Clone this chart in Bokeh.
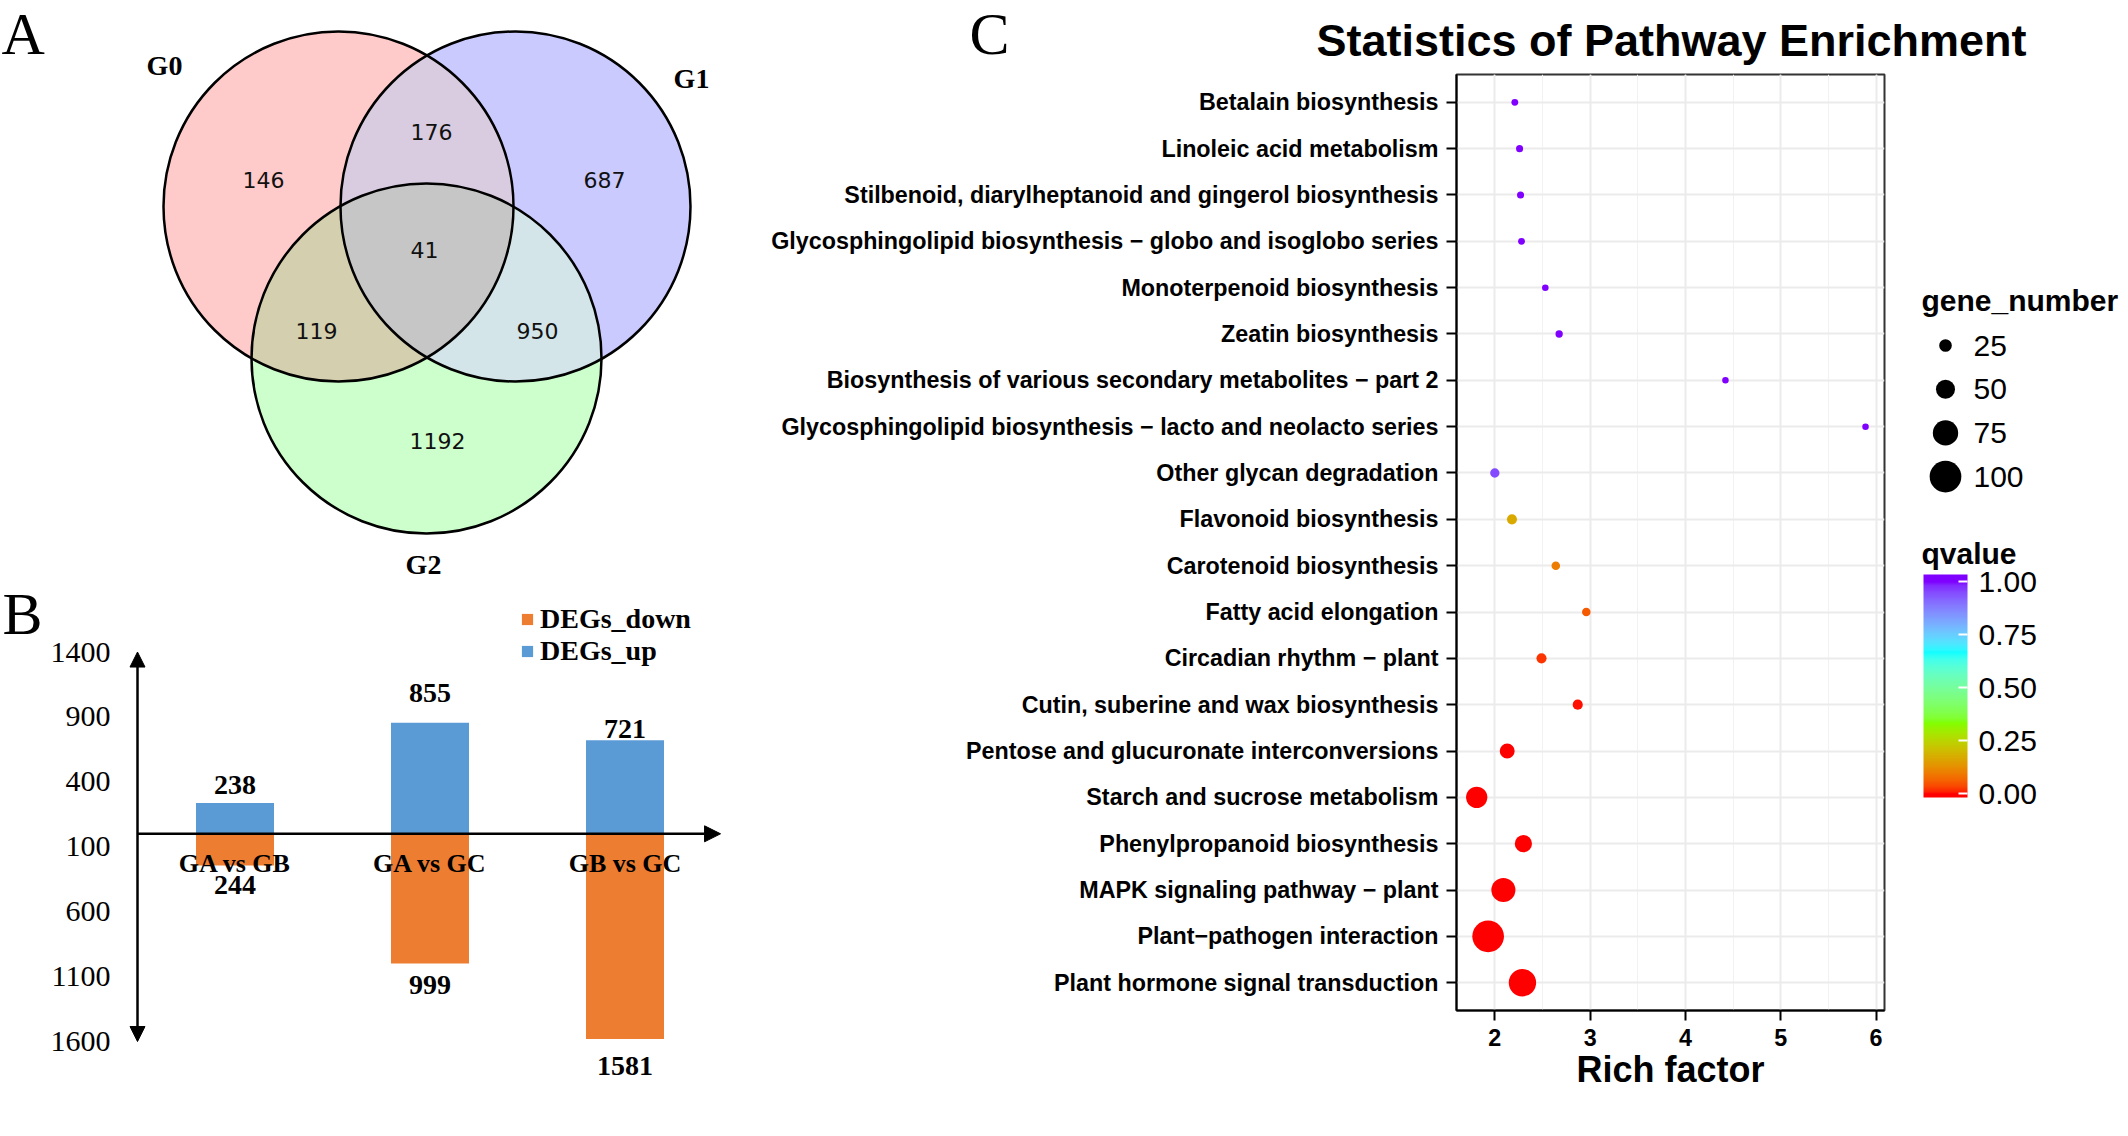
import numpy as np
from bokeh.plotting import figure
from bokeh.models import (Range1d, FactorRange, LinearColorMapper, ColorBar, FixedTicker,
                          PrintfTickFormatter, SingleIntervalTicker, LinearInterpolator,
                          Arrow, NormalHead, Legend, LegendItem, ColumnDataSource)
from bokeh.layouts import row, column
from bokeh.embed import file_html
from bokeh.resources import INLINE
from bokeh.core.properties import value

# ---------------- data ----------------
venn_sets = ["G0", "G1", "G2"]
venn_regions = ["G0", "G0&G1", "G1", "G0&G1&G2", "G0&G2", "G1&G2", "G2"]
venn_counts = [146, 176, 687, 41, 119, 950, 1192]

deg_groups = ["GA vs GB", "GA vs GC", "GB vs GC"]
degs_up = [238, 855, 721]
degs_down = [244, 999, 1581]
deg_ticks = [1400, 900, 400, -100, -600, -1100, -1600]

pathways = [
    "Betalain biosynthesis",
    "Linoleic acid metabolism",
    "Stilbenoid, diarylheptanoid and gingerol biosynthesis",
    "Glycosphingolipid biosynthesis \u2212 globo and isoglobo series",
    "Monoterpenoid biosynthesis",
    "Zeatin biosynthesis",
    "Biosynthesis of various secondary metabolites \u2212 part 2",
    "Glycosphingolipid biosynthesis \u2212 lacto and neolacto series",
    "Other glycan degradation",
    "Flavonoid biosynthesis",
    "Carotenoid biosynthesis",
    "Fatty acid elongation",
    "Circadian rhythm \u2212 plant",
    "Cutin, suberine and wax biosynthesis",
    "Pentose and glucuronate interconversions",
    "Starch and sucrose metabolism",
    "Phenylpropanoid biosynthesis",
    "MAPK signaling pathway \u2212 plant",
    "Plant\u2212pathogen interaction",
    "Plant hormone signal transduction",
]
rich_factor = [2.21, 2.26, 2.27, 2.28, 2.53, 2.675, 4.42, 5.89, 2.00, 2.18,
               2.64, 2.96, 2.49, 2.87, 2.13, 1.81, 2.30, 2.09, 1.93, 2.29]
gene_number = [2, 3, 3, 2, 1, 4, 1, 1, 12, 15, 9, 9, 15, 15, 34, 59, 43, 70, 104, 83]
qvalue = [1.0, 1.0, 1.0, 1.0, 1.0, 1.0, 1.0, 1.0, 0.95, 0.17,
          0.10, 0.055, 0.02, 0.006, 0.002, 0.0, 0.0, 0.0, 0.0, 0.0]
size_breaks = [25, 50, 75, 100]
q_breaks = [0.0, 0.25, 0.5, 0.75, 1.0]

SERIF = "Liberation Serif"
SANS = "Liberation Sans"

# ---------------- colour palette (Lab interpolation of rainbow(4)) ----------------
def _hex2rgb(h):
    h = h.lstrip("#")
    return np.array([int(h[i:i + 2], 16) for i in (0, 2, 4)], dtype=float) / 255.0

_M = np.array([[0.4124564, 0.3575761, 0.1804375],
               [0.2126729, 0.7151522, 0.0721750],
               [0.0193339, 0.1191920, 0.9503041]])
_WHITE = np.array([0.95047, 1.0, 1.08883])
_D = 6.0 / 29.0

def rgb2lab(c):
    lin = np.where(c <= 0.04045, c / 12.92, ((c + 0.055) / 1.055) ** 2.4)
    t = (_M @ lin) / _WHITE
    f = np.where(t > _D ** 3, np.cbrt(t), t / (3 * _D ** 2) + 4 / 29)
    return np.array([116 * f[1] - 16, 500 * (f[0] - f[1]), 200 * (f[1] - f[2])])

def lab2rgb(lab):
    L, a, b = lab
    fy = (L + 16) / 116
    f = np.array([fy + a / 500, fy, fy - b / 200])
    t = np.where(f > _D, f ** 3, 3 * _D ** 2 * (f - 4 / 29)) * _WHITE
    lin = np.clip(np.linalg.solve(_M, t), 0, 1)
    c = np.where(lin <= 0.0031308, 12.92 * lin, 1.055 * lin ** (1 / 2.4) - 0.055)
    return np.clip(c, 0, 1)

stops_hex = ["#FF0000", "#80FF00", "#00FFFF", "#8000FF"]
stops_lab = [rgb2lab(_hex2rgb(h)) for h in stops_hex]
q_low, q_high = -0.018, 1.033

def qcolor(q):
    q = min(max(q, 0.0), 1.0)
    pos = q * (len(stops_lab) - 1)
    i = min(int(pos), len(stops_lab) - 2)
    t = pos - i
    lab = stops_lab[i] * (1 - t) + stops_lab[i + 1] * t
    r, g, b = (lab2rgb(lab) * 255 + 0.5).astype(int)
    return "#%02x%02x%02x" % (r, g, b)

palette = [qcolor(v) for v in np.linspace(q_low, q_high, 256)]
cmapper = LinearColorMapper(palette=palette, low=q_low, high=q_high)
size_interp = LinearInterpolator(x=[0, 100], y=[6.3, 31.7], clip=False)

def bare(p):
    p.grid.visible = False
    p.outline_line_color = None
    p.background_fill_color = None
    return p

# ---------------- Panel A : Venn ----------------
WA, HA = 740, 580
pA = bare(figure(width=WA, height=HA, x_range=Range1d(0, WA), y_range=Range1d(0, HA),
                 output_backend="svg", toolbar_location=None, min_border=0,
                 x_axis_location=None, y_axis_location=None))
circ_x = [338, 515, 426]
circ_y = [374, 374, 222]
circ_r = 175
yy, xx = np.mgrid[0:HA, 0:WA].astype(float) + 0.5
code = np.zeros((HA, WA), dtype=int)
for k, (cx, cy) in enumerate(zip(circ_x, circ_y)):
    code += ((xx - cx) ** 2 + (yy - cy) ** 2 <= circ_r ** 2).astype(int) << k
region_rgb = {1: (255, 202, 202), 2: (202, 202, 255), 4: (204, 255, 204),
              3: (217, 204, 224), 5: (212, 207, 175), 6: (211, 229, 232),
              7: (198, 198, 198)}
img = np.zeros((HA, WA, 4), dtype=np.uint8)
for k, c in region_rgb.items():
    m = code == k
    img[m, 0], img[m, 1], img[m, 2], img[m, 3] = c[0], c[1], c[2], 255
img32 = np.ascontiguousarray(img).view(np.uint32).reshape(HA, WA)
pA.image_rgba(image=[img32], x=0, y=0, dw=WA, dh=HA)
pA.circle(x=circ_x, y=circ_y, radius=circ_r, fill_color=None,
          line_color="black", line_width=2.5)
region_pos = {"G0": (263, 401), "G0&G1": (431, 449), "G1": (604, 401),
              "G0&G1&G2": (424, 331), "G0&G2": (316, 250), "G1&G2": (537, 250),
              "G2": (437, 140)}
pA.text(x=[region_pos[r][0] for r in venn_regions],
        y=[region_pos[r][1] for r in venn_regions],
        text=[str(c) for c in venn_counts],
        text_font=value("DejaVu Sans"), text_font_size="22px",
        text_align="center", text_baseline="middle", text_color="#111111")
set_pos = [(164, 515, "middle"), (691, 502, "middle"), (423, 1, "bottom")]
for (sx, sy, bl), name in zip(set_pos, venn_sets):
    pA.text(x=[sx], y=[sy], text=[name], text_font=value(SERIF), text_font_style="bold",
            text_font_size="28px", text_align="center", text_baseline=bl, text_color="black")
pA.text(x=[1], y=[HA], text=["A"], text_font=value(SERIF), text_font_size="60px",
        text_align="left", text_baseline="top", text_color="black")

# ---------------- Panel B : DEG bars ----------------
WB, HB = 740, 552
px_per_cat = 195.0          # pixels per category
px_per_unit = 0.12983       # pixels per gene
axis_px = 137               # x pixel of the vertical axis
zero_px = 253.3             # y pixel (from top) of the zero line
pB = bare(figure(width=WB, height=HB,
                 x_range=Range1d(-axis_px / px_per_cat, (WB - axis_px) / px_per_cat),
                 y_range=Range1d(-(HB - zero_px) / px_per_unit, zero_px / px_per_unit),
                 output_backend="svg", toolbar_location=None, min_border=0,
                 x_axis_location=None, y_axis_location=None))
xs = np.arange(len(deg_groups)) + 0.5
r_up = pB.vbar(x=xs, top=degs_up, bottom=0, width=0.4, fill_color="#5B9BD5", line_color=None)
r_down = pB.vbar(x=xs, top=0, bottom=[-d for d in degs_down], width=0.4,
                 fill_color="#ED7D31", line_color=None)
pB.text(x=[0] * len(deg_ticks), y=deg_ticks, text=[str(abs(t)) for t in deg_ticks],
        x_offset=-27, text_font=value(SERIF), text_font_size="30px",
        text_align="right", text_baseline="middle", text_color="black")
pB.add_layout(Arrow(x_start=0, y_start=deg_ticks[-1], x_end=0, y_end=deg_ticks[0],
                    line_color="black", line_width=2.5,
                    start=NormalHead(size=15, fill_color="black", line_color="black"),
                    end=NormalHead(size=15, fill_color="black", line_color="black")))
pB.add_layout(Arrow(x_start=0, y_start=0, x_end=len(deg_groups) - 0.01, y_end=0,
                    line_color="black", line_width=2.5,
                    end=NormalHead(size=16, fill_color="black", line_color="black")))
up_dy = [-18, -30, -11]
down_dy = [20, 21, 27]
lab_font = dict(text_font=value(SERIF), text_font_style="bold", text_align="center",
                text_baseline="middle", text_color="black")
pB.text(x=xs, y=degs_up, text=[str(v) for v in degs_up], y_offset=up_dy,
        text_font_size="28px", **lab_font)
pB.text(x=xs, y=[-v for v in degs_down], text=[str(v) for v in degs_down], y_offset=down_dy,
        text_font_size="28px", **lab_font)
pB.text(x=xs, y=[0] * len(xs), text=deg_groups, y_offset=30, text_font_size="26px", **lab_font)
pB.text(x=[0], y=[zero_px / px_per_unit], text=["B"], x_offset=-135,
        text_font=value(SERIF), text_font_size="60px", text_align="left",
        text_baseline="top", text_color="black")
legB = Legend(items=[LegendItem(label="DEGs_down", renderers=[r_down]),
                     LegendItem(label="DEGs_up", renderers=[r_up])],
              location=(520, 465), glyph_width=14, glyph_height=14, label_standoff=6,
              spacing=0, padding=0, margin=0, border_line_color=None,
              background_fill_alpha=0, label_text_font=SERIF, label_text_font_style="bold",
              label_text_font_size="28px", label_text_color="black")
pB.add_layout(legB)

# ---------------- Panel C : header (letter + title) ----------------
WT, HT = 1384, 70
pT = bare(figure(width=WT, height=HT, x_range=Range1d(0, WT), y_range=Range1d(0, HT),
                 output_backend="svg", toolbar_location=None, min_border=0,
                 x_axis_location=None, y_axis_location=None))
pT.text(x=[249], y=[HT], text=["C"], text_font=value(SERIF), text_font_size="60px",
        text_align="center", text_baseline="top", text_color="black")
pT.text(x=[931], y=[HT - 40], text=["Statistics of Pathway Enrichment"],
        text_font=value(SANS), text_font_style="bold", text_font_size="45px",
        text_align="center", text_baseline="middle", text_color="black")

# ---------------- Panel C : enrichment dot plot ----------------
WC, HC = 1150, 1062
bt, bb = 4, 122
src = ColumnDataSource(dict(path=pathways, rf=rich_factor, gene=gene_number, q=qvalue))
pC = figure(width=WC, height=HC,
            y_range=FactorRange(factors=pathways[::-1], range_padding=0.1,
                                range_padding_units="absolute"),
            x_range=Range1d(1.598, 6.089), output_backend="svg", toolbar_location=None,
            min_border_left=716, min_border_right=6, min_border_top=bt,
            min_border_bottom=bb)
pC.outline_line_color = "#333333"
pC.outline_line_width = 2
pC.xaxis.ticker = SingleIntervalTicker(interval=1, num_minor_ticks=2)
pC.xgrid.grid_line_color = "#EBEBEB"
pC.xgrid.grid_line_width = 2
pC.xgrid.minor_grid_line_color = "#F2F2F2"
pC.xgrid.minor_grid_line_width = 1
pC.ygrid.grid_line_color = "#EBEBEB"
pC.ygrid.grid_line_width = 2
for ax in (pC.xaxis[0], pC.yaxis[0]):
    ax.axis_line_color = "black"
    ax.axis_line_width = 2
    ax.major_tick_line_color = "black"
    ax.major_tick_line_width = 2
    ax.major_tick_out = 10
    ax.major_tick_in = 0
    ax.minor_tick_line_color = None
    ax.major_label_standoff = 8
    ax.major_label_text_font = SANS
    ax.major_label_text_font_style = "bold"
    ax.major_label_text_font_size = "23.3px"
    ax.major_label_text_color = "black"
pC.xaxis.axis_label = "Rich factor"
pC.xaxis.axis_label_text_font = SANS
pC.xaxis.axis_label_text_font_size = "36px"
pC.xaxis.axis_label_text_font_style = "bold"
pC.xaxis.axis_label_text_color = "black"
pC.xaxis.axis_label_standoff = 0
pC.scatter(x="rf", y="path", source=src,
           size={"field": "gene", "transform": size_interp},
           fill_color={"field": "q", "transform": cmapper}, line_color=None)

# ---------------- Panel C legends ----------------
WL = 234
top_ref = HT + bt                    # page y of frame top
bot_ref = HT + HC - bb               # page y of frame bottom
pL = bare(figure(width=WL, height=HC, x_range=Range1d(0, WL),
                 y_range=Range1d(-bot_ref, -top_ref),
                 output_backend="svg", toolbar_location=None, min_border_left=0,
                 min_border_right=0, min_border_top=bt, min_border_bottom=bb,
                 x_axis_location=None, y_axis_location=None))
# y in this panel = minus page pixel row
title_font = dict(text_font=value(SANS), text_font_style="bold", text_font_size="30px",
                  text_align="left", text_baseline="middle", text_color="black")
pL.text(x=[31], y=[-300], text=["gene_number"], **title_font)
leg_y = -(345 + 43.7 * np.arange(len(size_breaks)))
leg_src = ColumnDataSource(dict(x=[55] * len(size_breaks), y=list(leg_y), s=size_breaks,
                                lbl=[str(s) for s in size_breaks]))
pL.scatter(x="x", y="y", size={"field": "s", "transform": size_interp}, source=leg_src,
           fill_color="black", line_color=None)
pL.text(x=83, y="y", text="lbl", source=leg_src, text_font=value(SANS), text_font_size="30px",
        text_align="left", text_baseline="middle", text_color="black")
pL.text(x=[31], y=[-553], text=["qvalue"], **title_font)
cbar = ColorBar(color_mapper=cmapper, ticker=FixedTicker(ticks=q_breaks),
                formatter=PrintfTickFormatter(format="%.2f"), width=44, height=223,
                location=(33, bot_ref - 797), padding=0, label_standoff=11,
                major_label_text_font=SANS, major_label_text_font_size="30px",
                major_label_text_color="black", major_tick_line_color="white",
                major_tick_line_width=2, major_tick_in=9, major_tick_out=0,
                minor_tick_line_color=None, bar_line_color=None, border_line_color=None,
                background_fill_alpha=0)
pL.add_layout(cbar)

layout = row(column(pA, pB), column(pT, row(pC, pL)))
open("out.html", "w").write(file_html(layout, INLINE))
